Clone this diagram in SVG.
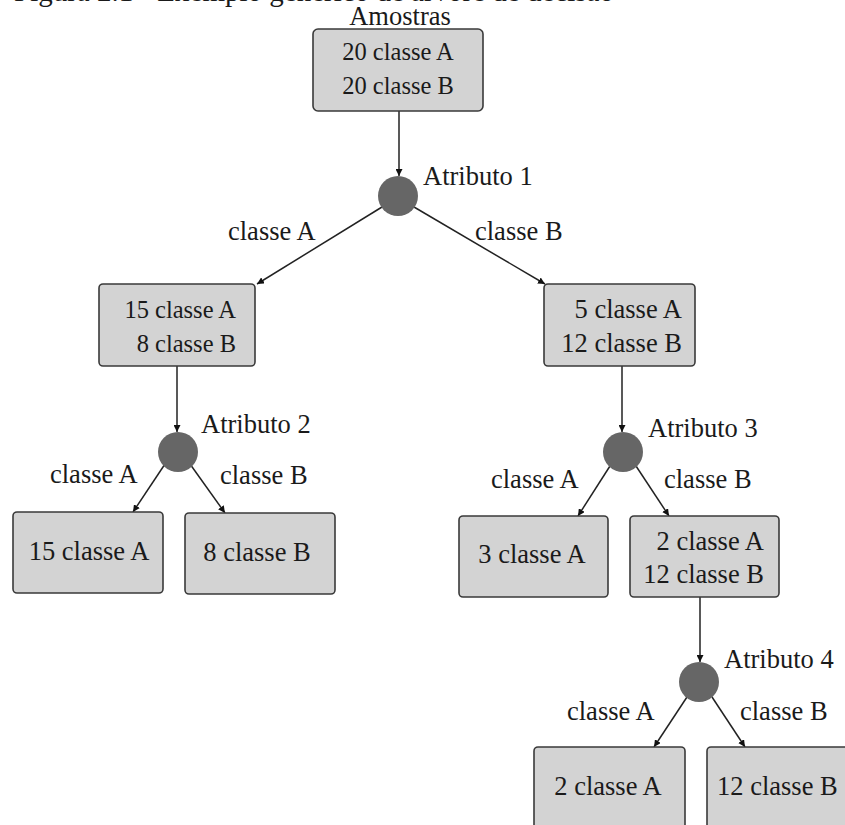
<svg xmlns="http://www.w3.org/2000/svg" width="845" height="825" viewBox="0 0 845 825" font-family="'Liberation Serif', 'DejaVu Serif', 'Noto Serif', serif">
<defs>
<style>
text{fill:#1a1a1a}
.box{fill:#d3d3d3;stroke:#3a3a3a;stroke-width:1.6}
.dec{fill:#666666}
.lbl{font-size:26.5px}
.bt{font-size:26.5px}
.bs{font-size:24.5px}
.edge{stroke:#222;stroke-width:1.5;fill:none;marker-end:url(#ah)}
</style>
<marker id="ah" viewBox="0 0 10 10" refX="10" refY="5" markerWidth="7" markerHeight="7" markerUnits="userSpaceOnUse" orient="auto">
<path d="M0,0 L10,5 L0,10 z" fill="#111"/>
</marker>
</defs>
<rect width="845" height="825" fill="#ffffff"/>
<text x="14" y="1" style="font-size:29px">Figura 2.1 - Exemplo genérico de árvore de decisão</text>

<g id="connectors">
<line class="edge" x1="399" y1="111" x2="399" y2="176"/>
<line class="edge" x1="382" y1="207" x2="257" y2="284"/>
<line class="edge" x1="414" y1="207" x2="545" y2="284"/>
<line class="edge" x1="177" y1="366" x2="177" y2="432"/>
<line class="edge" x1="165" y1="464" x2="133" y2="512"/>
<line class="edge" x1="190" y1="464" x2="225" y2="513"/>
<line class="edge" x1="622" y1="366" x2="622" y2="432"/>
<line class="edge" x1="610" y1="466" x2="578" y2="516"/>
<line class="edge" x1="636" y1="466" x2="669" y2="516"/>
<line class="edge" x1="700" y1="597" x2="700" y2="662"/>
<line class="edge" x1="687" y1="697" x2="654" y2="747"/>
<line class="edge" x1="712" y1="697" x2="745" y2="747"/>
</g>

<g id="root">
<text x="400" y="25" text-anchor="middle" class="lbl">Amostras</text>
<rect class="box" x="313" y="29" width="170" height="82" rx="5"/>
<text x="398" y="60" text-anchor="middle" class="bs">20 classe A</text>
<text x="398" y="94" text-anchor="middle" class="bs">20 classe B</text>
</g>

<g id="attr1">
<circle class="dec" cx="398" cy="196" r="20"/>
<text x="423" y="185" class="lbl">Atributo 1</text>
</g>
<g id="labels1">
<text x="228" y="240" class="lbl">classe A</text>
<text x="475" y="240" class="lbl">classe B</text>
</g>

<g id="n15a8b">
<rect class="box" x="99" y="284" width="156" height="82" rx="4"/>
<text x="236" y="318" text-anchor="end" class="bs">15 classe A</text>
<text x="236" y="352" text-anchor="end" class="bs">8 classe B</text>
</g>

<g id="n5a12b">
<rect class="box" x="544" y="284" width="151" height="82" rx="4"/>
<text x="682" y="318" text-anchor="end" class="bt">5 classe A</text>
<text x="682" y="352" text-anchor="end" class="bt">12 classe B</text>
</g>

<g id="attr2">
<circle class="dec" cx="178" cy="452" r="20"/>
<text x="201" y="433" class="lbl">Atributo 2</text>
<text x="50" y="483" class="lbl">classe A</text>
<text x="220" y="484" class="lbl">classe B</text>
</g>

<g id="leaf15a">
<rect class="box" x="13" y="512" width="150" height="81" rx="4"/>
<text x="89" y="560" text-anchor="middle" class="bt">15 classe A</text>
</g>
<g id="leaf8b">
<rect class="box" x="185" y="513" width="150" height="81" rx="4"/>
<text x="257" y="561" text-anchor="middle" class="bt">8 classe B</text>
</g>

<g id="attr3">
<circle class="dec" cx="623" cy="452" r="20"/>
<text x="648" y="437" class="lbl">Atributo 3</text>
<text x="491" y="488" class="lbl">classe A</text>
<text x="664" y="488" class="lbl">classe B</text>
</g>

<g id="leaf3a">
<rect class="box" x="459" y="516" width="149" height="81" rx="4"/>
<text x="532" y="563" text-anchor="middle" class="bt">3 classe A</text>
</g>
<g id="n2a12b">
<rect class="box" x="630" y="516" width="149" height="81" rx="4"/>
<text x="764" y="550" text-anchor="end" class="bt">2 classe A</text>
<text x="764" y="583" text-anchor="end" class="bt">12 classe B</text>
</g>

<g id="attr4">
<circle class="dec" cx="699" cy="682" r="20"/>
<text x="724" y="668" class="lbl">Atributo 4</text>
<text x="567" y="720" class="lbl">classe A</text>
<text x="740" y="720" class="lbl">classe B</text>
</g>

<g id="leaf2a">
<rect class="box" x="534" y="747" width="151" height="100" rx="4"/>
<text x="608" y="795" text-anchor="middle" class="bt">2 classe A</text>
</g>
<g id="leaf12b">
<rect class="box" x="707" y="747" width="151" height="100" rx="4"/>
<text x="717" y="795" class="bt">12 classe B</text>
</g>
</svg>
